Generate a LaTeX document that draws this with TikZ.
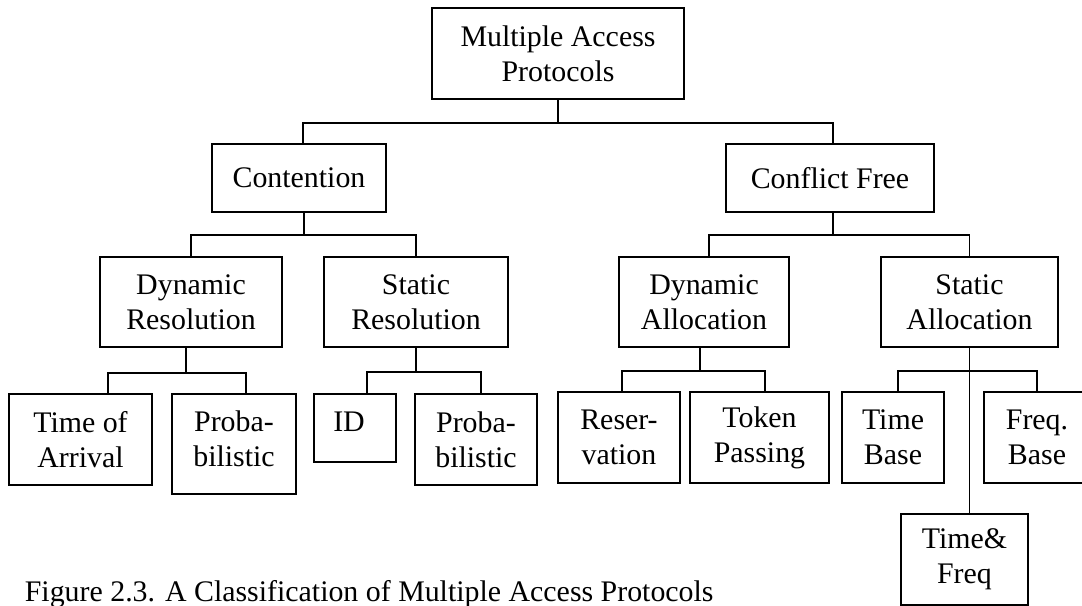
\documentclass[tikz,border=0pt]{standalone}
\usepackage{fontspec}
\setmainfont{Liberation Serif}
\usetikzlibrary{calc}

\begin{document}
\begin{tikzpicture}[scale=0.2,
  box/.style={draw=black, line width=0.9pt, align=center, font=\fontsize{17}{19.9}\selectfont},
  link/.style={draw=black, line width=0.9pt}]
        \tikzstyle{every node}+=[inner sep=0pt]
        \useasboundingbox (0,0) rectangle (108.2,-60.6);
        % top two levels
        \node [box, minimum width=5.03cm, minimum height=1.82cm] (root) at (55.8,-5.35) {Multiple Access\\Protocols};
        \node [box, minimum width=3.48cm, minimum height=1.36cm] (cont) at (29.9,-17.8) {Contention};
        \node [box, minimum width=4.16cm, minimum height=1.36cm] (free) at (83.0,-17.8) {Conflict Free};
        \node [box, minimum width=3.64cm, minimum height=1.80cm] (dynres) at (19.1,-30.2) {Dynamic\\Resolution};
        \node [box, minimum width=3.69cm, minimum height=1.80cm] (statres) at (41.6,-30.2) {Static\\Resolution};
        \node [box, minimum width=3.40cm, minimum height=1.80cm] (dynall) at (70.4,-30.2) {Dynamic\\Allocation};
        \node [box, minimum width=3.54cm, minimum height=1.80cm] (statall) at (96.95,-30.2) {Static\\Allocation};
        % leaves
        \node [box, minimum width=2.86cm, minimum height=1.82cm] (toa) at (8.05,-43.95) {Time of\\Arrival};
        \node [box, minimum width=2.48cm, minimum height=2.00cm, text depth=6pt] (probA) at (23.4,-44.4) {Proba-\\bilistic};
        \node [box, minimum width=1.64cm, minimum height=1.36cm, text depth=7.4pt] (id) at (35.5,-42.8) {ID\kern6.8pt};
        \node [box, minimum width=2.45cm, minimum height=1.82cm] (probB) at (47.6,-43.95) {Proba-\\bilistic};
        \node [box, minimum width=2.44cm, minimum height=1.82cm] (resv) at (61.9,-43.75) {Reser-\\vation};
        \node [box, minimum width=2.78cm, minimum height=1.82cm] (token) at (75.95,-43.75) {Token\\Passing};
        \node [box, minimum width=2.04cm, minimum height=1.82cm] (tbase) at (89.3,-43.75) {Time\\Base};
        \node [box, minimum width=2.12cm, minimum height=1.82cm] (fbase) at (103.7,-43.75) {Freq.\\Base};
        \node [box, minimum width=2.54cm, minimum height=1.82cm] (tf) at (96.45,-55.95) {Time\&\\Freq};
        \node [anchor=base west, font=\fontsize{17}{19.9}\selectfont] (caption) at (2.45,-60.15) {Figure 2.3. A Classification of Multiple Access Protocols};
        % connectors
        \draw [link] (root.south) -- ++(0,-2.3) -| ($(cont.north)+(0.4,0)$);
        \draw [link] (root.south) -- ++(0,-2.3) -| ($(free.north)+(0.3,0)$);
        \draw [link] ($(cont.south)+(0.5,0)$) -- ++(0,-2.2) -| (dynres.north);
        \draw [link] ($(cont.south)+(0.5,0)$) -- ++(0,-2.2) -| (statres.north);
        \draw [link] ($(free.south)+(0.3,0)$) -- ++(0,-2.2) -| ($(dynall.north)+(0.5,0)$);
        \draw [link] ($(free.south)+(0.3,0)$) -- ++(0,-2.2) -| (statall.north);
        \draw [link] ($(dynres.south)+(-0.5,0)$) -- ++(0,-2.5) -| ($(toa.north)+(2.75,0)$);
        \draw [link] ($(dynres.south)+(-0.5,0)$) -- ++(0,-2.5) -| ($(probA.north)+(1.2,0)$);
        \draw [link] (statres.south) -- ++(0,-2.4) -| ($(id.north)+(1.2,0)$);
        \draw [link] (statres.south) -- ++(0,-2.4) -| ($(probB.north)+(0.5,0)$);
        \draw [link] ($(dynall.south)+(-0.4,0)$) -- ++(0,-2.3) -| ($(resv.north)+(0.3,0)$);
        \draw [link] ($(dynall.south)+(-0.4,0)$) -- ++(0,-2.3) -| ($(token.north)+(0.55,0)$);
        \draw [link] (statall.south) -- ++(0,-2.3) -| ($(tbase.north)+(0.5,0)$);
        \draw [link] (statall.south) -- ++(0,-2.3) -| (fbase.north);
        \draw [link] (statall.south) -- (statall.south |- tf.north);
\end{tikzpicture}
\end{document}
